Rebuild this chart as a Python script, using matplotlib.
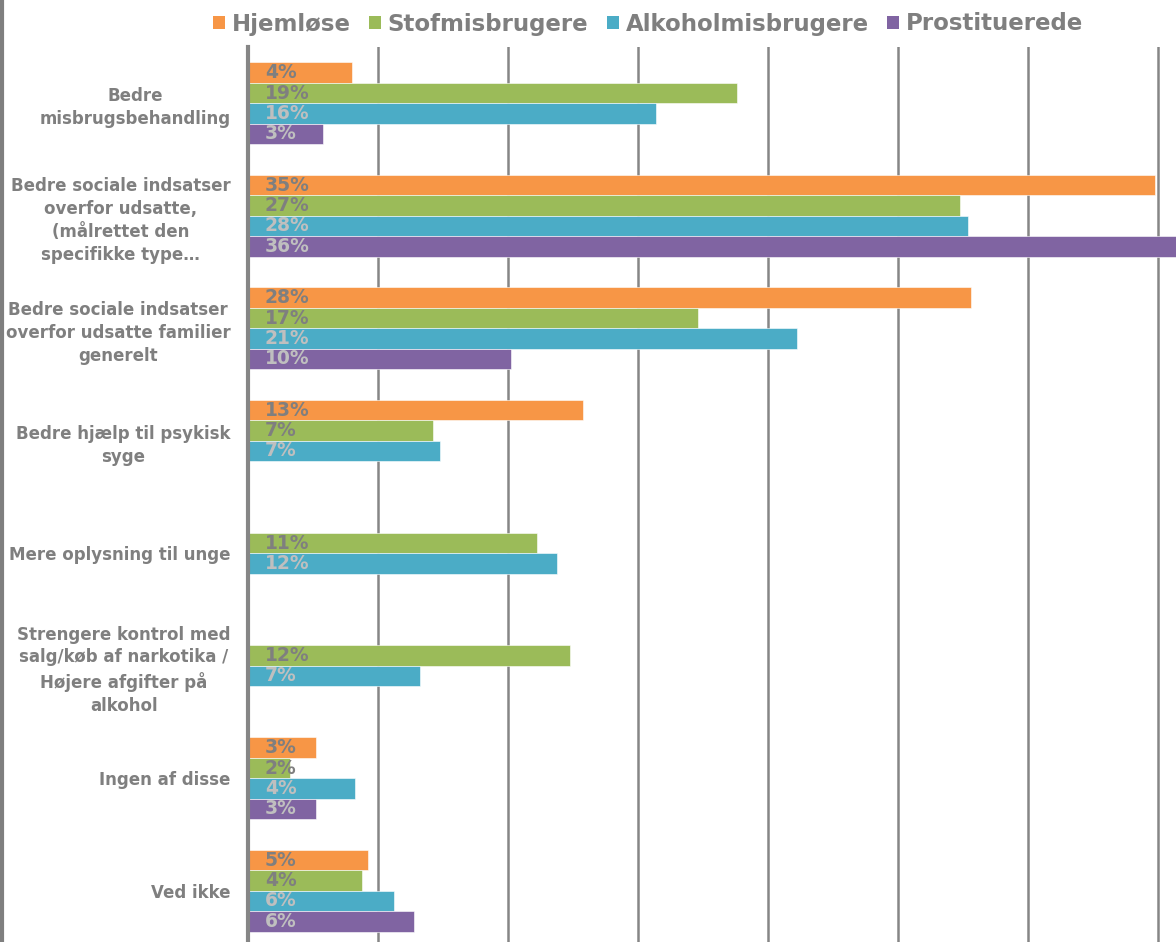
import numpy as np
import matplotlib
matplotlib.use("Agg")
import matplotlib.pyplot as plt
from matplotlib.patches import Patch
from matplotlib.lines import Line2D

categories = [
    "Bedre\nmisbrugsbehandling",
    "Bedre sociale indsatser\noverfor udsatte,\n(målrettet den\nspecifikke type…",
    "Bedre sociale indsatser\noverfor udsatte familier\ngenerelt",
    "Bedre hjælp til psykisk\nsyge",
    "Mere oplysning til unge",
    "Strengere kontrol med\nsalg/køb af narkotika /\nHøjere afgifter på\nalkohol",
    "Ingen af disse",
    "Ved ikke",
]

series_names = ["Hjemløse", "Stofmisbrugere", "Alkoholmisbrugere", "Prostituerede"]
nan = np.nan
hjemlose = [4.0, 34.9, 27.8, 12.9, nan, nan, 2.6, 4.6]
stofmisbrugere = [18.8, 27.4, 17.3, 7.1, 11.1, 12.4, 1.6, 4.4]
alkoholmisbrugere = [15.7, 27.7, 21.1, 7.4, 11.9, 6.6, 4.1, 5.6]
prostituerede = [2.9, 35.8, 10.1, nan, nan, nan, 2.6, 6.4]

colors = ["#F79646", "#9BBB59", "#4BACC6", "#8064A2"]
label_colors = ["#7f7f7f", "#7f7f7f", "#bfbfbf", "#bfbfbf"]
gray = "#7f7f7f"

fig = plt.figure(figsize=(11.76, 9.42), dpi=100)
ax = fig.add_axes([248 / 1176, -5 / 942, 928 / 1176, 900 / 942])

all_series = [hjemlose, stofmisbrugere, alkoholmisbrugere, prostituerede]
y = np.arange(len(categories))
h = 0.182
for i, vals in enumerate(all_series):
    vals = np.array(vals, dtype=float)
    pos = y + (i - 1.5) * h
    ax.barh(pos, vals, height=h, color=colors[i], edgecolor="white",
            linewidth=0.4, zorder=2)
    for p, v in zip(pos, vals):
        if np.isnan(v):
            continue
        ax.annotate("{:.0f}%".format(v), xy=(0, p), xytext=(17, 0),
                    textcoords="offset pixels", ha="left", va="center",
                    fontsize=13.5, fontweight="bold", color=label_colors[i],
                    zorder=3)

ax.set_xlim(0, 928 / 26)
ax.set_ylim(len(categories) - 0.5, -0.5)
ax.set_xticks(np.arange(0, 36, 5))
ax.set_xticklabels([])
ax.tick_params(axis="x", length=0)
ax.grid(axis="x", color="#868686", linewidth=1.8)
ax.set_axisbelow(True)

ax.set_yticks(y)
ax.set_yticklabels(categories, fontsize=12, fontweight="bold", color=gray,
                   multialignment="center", linespacing=1.35)
ax.tick_params(axis="y", length=0, pad=12.5)

for s in ["top", "right", "bottom"]:
    ax.spines[s].set_visible(False)
ax.spines["left"].set_color("#868686")
ax.spines["left"].set_linewidth(3)

handles = [Patch(facecolor=c, edgecolor="none") for c in colors]
leg = fig.legend(handles, series_names, loc="center", ncol=4,
                 bbox_to_anchor=(0.551, 1 - 24 / 942), frameon=False,
                 handlelength=0.52, handleheight=0.52, handletextpad=0.3,
                 columnspacing=0.8, prop={"size": 16.5, "weight": "bold"})
for t in leg.get_texts():
    t.set_color(gray)

fig.add_artist(Line2D([0.0015, 0.0015], [0, 1], transform=fig.transFigure,
                      color=gray, linewidth=3))

fig.savefig("out.png", dpi=100)
